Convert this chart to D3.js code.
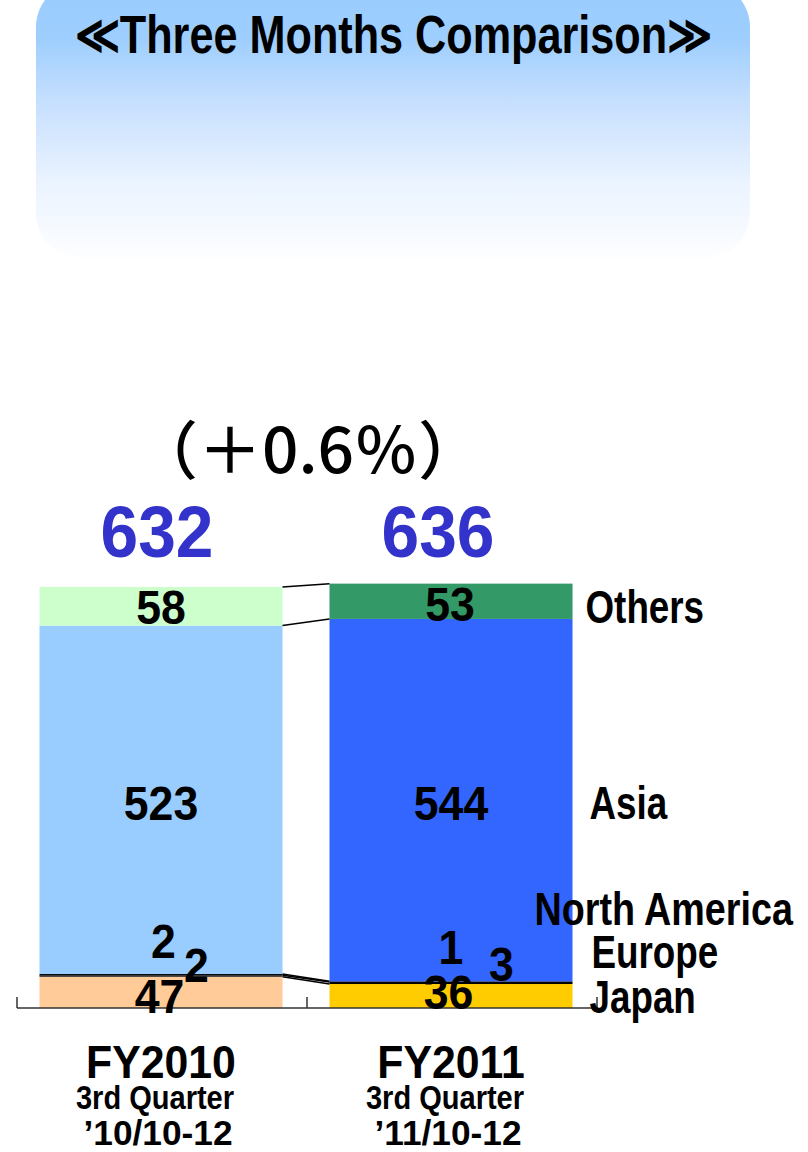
<!DOCTYPE html>
<html>
<head>
<meta charset="utf-8">
<script src="https://cdn.jsdelivr.net/npm/d3@7"></script>
<style>
  html, body { margin: 0; padding: 0; background: #fff; }
  svg { display: block; }
  text { font-family: "Liberation Sans", Arial, sans-serif; font-weight: bold; fill: #000; }
</style>
</head>
<body>
<svg id="chart" width="808" height="1152"></svg>
<script>
// ---- data ----
const title = "≪Three Months Comparison≫";
const periods = ["FY2010", "FY2011"];
const quarterLabels = ["3rd Quarter", "3rd Quarter"];
const rangeLabels = ["’10/10-12", "’11/10-12"];
const regions = ["Japan", "Europe", "North America", "Asia", "Others"];
const japan = [47, 36];
const europe = [2, 3];
const northAmerica = [2, 1];
const asia = [523, 544];
const others = [58, 53];
const totals = [632, 636];
const growthLabel = "（＋0.6％）";

// ---- colours per region, one per period ----
const palette = {
  "Japan": ["#ffcc99", "#ffcc00"],
  "Europe": ["#000000", "#000000"],
  "North America": ["#000000", "#000000"],
  "Asia": ["#99ccff", "#3366ff"],
  "Others": ["#ccffcc", "#339966"]
};

const rows = periods.map((p, i) => ({
  period: p,
  "Japan": japan[i],
  "Europe": europe[i],
  "North America": northAmerica[i],
  "Asia": asia[i],
  "Others": others[i]
}));
const series = d3.stack().keys(regions)(rows);

const svg = d3.select("#chart");

// ---- header panel ----
const defs = svg.append("defs");
const grad = defs.append("linearGradient")
  .attr("id", "panelFill").attr("gradientUnits", "userSpaceOnUse")
  .attr("x1", 0).attr("y1", -18).attr("x2", 0).attr("y2", 258);
[[0, "#99ccff"], [0.2, "#9dcefe"], [0.42, "#c4defe"], [0.72, "#eaf3ff"], [1, "#fdfeff"]]
  .forEach(([o, c]) => grad.append("stop").attr("offset", o).attr("stop-color", c));

svg.append("rect")
  .attr("x", 36).attr("y", -18).attr("width", 714).attr("height", 276)
  .attr("rx", 45).attr("ry", 45)
  .attr("fill", "url(#panelFill)");

svg.append("text")
  .attr("x", 75).attr("y", 53)
  .attr("font-size", 53)
  .attr("textLength", 637).attr("lengthAdjust", "spacingAndGlyphs")
  .text(title);

// ---- scales ----
const x = d3.scaleBand().domain(periods).range([17, 597]);
const barW = x.bandwidth() * 0.838;
const barX = p => x(p) + (x.bandwidth() - barW) / 2 - 1;
const barC = p => barX(p) + barW / 2;
const y = d3.scaleLinear().domain([0, 700]).range([1008, 1008 - 700 * 0.6662]);

// ---- stacked bars ----
const layers = svg.append("g").selectAll("g").data(series).join("g");
layers.selectAll("rect")
  .data(s => s.map((d, i) => ({ key: s.key, i, d })))
  .join("rect")
  .attr("x", o => barX(periods[o.i]))
  .attr("width", barW)
  .attr("y", o => y(o.d[1]))
  .attr("height", o => y(o.d[0]) - y(o.d[1]))
  .attr("fill", o => palette[o.key][o.i]);

// ---- series connector lines between the two bars ----
svg.append("g").selectAll("line").data(series).join("line")
  .attr("x1", barX(periods[0]) + barW)
  .attr("x2", barX(periods[1]))
  .attr("y1", s => y(s[0][1]))
  .attr("y2", s => y(s[1][1]))
  .attr("stroke", "#000").attr("stroke-width", 1.5);

// ---- category axis ----
const axis = svg.append("g").attr("stroke", "#333").attr("stroke-width", 1.5);
axis.append("line")
  .attr("x1", x.range()[0]).attr("x2", x.range()[1])
  .attr("y1", y(0)).attr("y2", y(0));
const bounds = periods.map(p => x(p)).concat([x.range()[1]]);
axis.selectAll(".tick").data(bounds).join("line")
  .attr("x1", d => d).attr("x2", d => d)
  .attr("y1", y(0)).attr("y2", y(0) - 11);

// helper for horizontally condensed text
function label(g, tx, ty, str, size, sx, anchor) {
  return g.append("text")
    .attr("transform", `translate(${tx},${ty}) scale(${sx},1)`)
    .attr("font-size", size)
    .attr("text-anchor", anchor || "middle")
    .text(str);
}

// ---- segment value labels ----
// nudges [dx, dy] from each segment's centre, per period
const nudge = {
  "Japan": [[-1.5, 4], [-2.5, -4]],
  "Europe": [[35.5, -11], [50.5, -19]],
  "North America": [[2.5, -34], [0, -35]],
  "Asia": [[0, 3], [0, 3]],
  "Others": [[0, 1], [-1, 3]]
};
const valueLayer = svg.append("g");
series.forEach(s => {
  s.forEach((d, i) => {
    const p = periods[i];
    const [dx, dy] = nudge[s.key][i];
    const cy = (y(d[0]) + y(d[1])) / 2 + dy;
    label(valueLayer, barC(p) + dx, cy + 17, d[1] - d[0], 48, 0.93);
  });
});

// ---- region names beside the second bar ----
const nameNudge = { "Japan": [17, 1], "Europe": [19, -31], "North America": [-38, -73], "Asia": [17, 3], "Others": [13, 6] };
const nameLayer = svg.append("g");
series.forEach(s => {
  const d = s[1];
  const [dx, dy] = nameNudge[s.key];
  const cy = (y(d[0]) + y(d[1])) / 2 + dy;
  label(nameLayer, barX(periods[1]) + barW + dx, cy + 16, s.key, 46, s.key === "North America" ? 0.82 : 0.8, "start");
});

// ---- totals and growth ----
const totalShift = [-4, -13];
const totalLayer = svg.append("g");
totals.forEach((t, i) => {
  label(totalLayer, barC(periods[i]) + totalShift[i], y(d3.max(totals)) - 27, t, 72, 0.94)
    .attr("fill", "#3333cc").style("fill", "#3333cc");
});

// growth ratio, stretched to span the space between the two totals
const growth = svg.append("text")
  .attr("font-size", 63)
  .style("font-family", "'Noto Sans CJK JP', 'Noto Sans', sans-serif")
  .style("font-weight", 500)
  .text(growthLabel);
const gw = growth.node().getComputedTextLength();
growth.attr("transform", `translate(134,473) scale(${348 / gw},1)`);

// ---- category labels ----
const catLayer = svg.append("g");
periods.forEach((p, i) => {
  const cx = barC(p);
  label(catLayer, cx, 1078, p, 47, 0.91);
  label(catLayer, cx - 6, 1109, quarterLabels[i], 33, 0.88);
  label(catLayer, cx - 3, 1145, rangeLabels[i], 36, 0.98);
});
</script>
</body>
</html>
